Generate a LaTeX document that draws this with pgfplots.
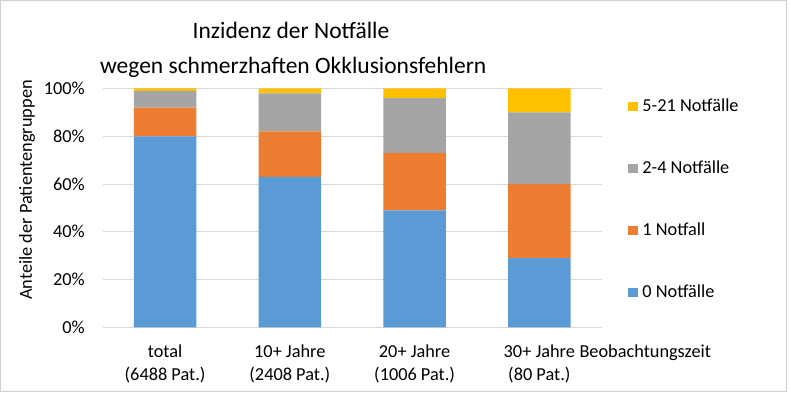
\documentclass[border=0pt]{standalone}
\usepackage{pgfplots}
\pgfplotsset{compat=1.18}
\usepackage{fontspec}
\setmainfont{Carlito}
\definecolor{cBlue}{HTML}{5B9BD5}
\definecolor{cOrange}{HTML}{ED7D31}
\definecolor{cGray}{HTML}{A5A5A5}
\definecolor{cYellow}{HTML}{FFC000}
\definecolor{cGrid}{HTML}{D9D9D9}
\definecolor{cFrame}{HTML}{D0D0D0}
\newcommand{\fs}{\fontsize{18.3}{23}\selectfont}
\begin{document}
\begin{tikzpicture}
\useasboundingbox (-102.7pt,-66.7pt) rectangle (687.3pt,327.3pt);
\draw[cFrame, line width=1pt] (-101.7pt,-64.5pt) rectangle (683.3pt,326.3pt);
\begin{axis}[
  scale only axis,
  width=499pt, height=238.8pt,
  at={(0,0)}, anchor=south west,
  ybar stacked,
  bar width=0.5,
  xmin=-0.5, xmax=3.5,
  ymin=0, ymax=100,
  axis line style={draw=none},
  major tick length=0pt,
  ymajorgrids,
  grid style={cGrid, line width=1pt},
  ytick={0,20,40,60,80,100},
  yticklabels={0\%,20\%,40\%,60\%,80\%,100\%},
  yticklabel style={font=\fs, anchor=east, inner sep=0pt, xshift=-17.7pt},
  xtick={0,1,2,3},
  xticklabels={{total\\(6488 Pat.)},{10+ Jahre\\(2408 Pat.)},{20+ Jahre\\(1006 Pat.)},{30+ Jahre\\(80 Pat.)}},
  xticklabel style={font=\fs, align=center, anchor=base, inner sep=0pt, yshift=-53.2pt},
  reverse legend,
  legend image code/.code={\fill[#1] (0pt,-4.2pt) rectangle (10pt,4.2pt);},
  legend style={draw=none, fill=none, at={(1.052,0.961)}, anchor=north west,
    font=\fs, inner sep=0pt, column sep=4.6pt, row sep=45pt,
    nodes={inner sep=0pt, text height=13pt, text depth=4pt, anchor=west}},
  legend cell align=left,
]
\addplot[draw=none, fill=cBlue] coordinates {(0,80) (1,63) (2,49) (3,29)};
\addplot[draw=none, fill=cOrange] coordinates {(0,12) (1,19) (2,24) (3,31)};
\addplot[draw=none, fill=cGray] coordinates {(0,7) (1,16) (2,23) (3,30)};
\addplot[draw=none, fill=cYellow] coordinates {(0,1) (1,2) (2,4) (3,10)};
\legend{0 Notfälle,1 Notfall,2-4 Notfälle,5-21 Notfälle}
\end{axis}
\node[anchor=base, font=\fontsize{23.5}{35}\selectfont, inner sep=0pt] at (188.3pt,288.3pt) {Inzidenz der Notfälle};
\node[anchor=base, font=\fontsize{23.5}{35}\selectfont, inner sep=0pt] at (190.5pt,253.3pt) {wegen schmerzhaften Okklusionsfehlern};
\node[anchor=center, rotate=90, font=\fs, inner sep=0pt] at (-75.7pt,137.3pt) {Anteile der Patientengruppen};
\node[anchor=base west, font=\fs, inner sep=0pt] at (476.6pt,-30.2pt) {Beobachtungszeit};
\end{tikzpicture}
\end{document}
